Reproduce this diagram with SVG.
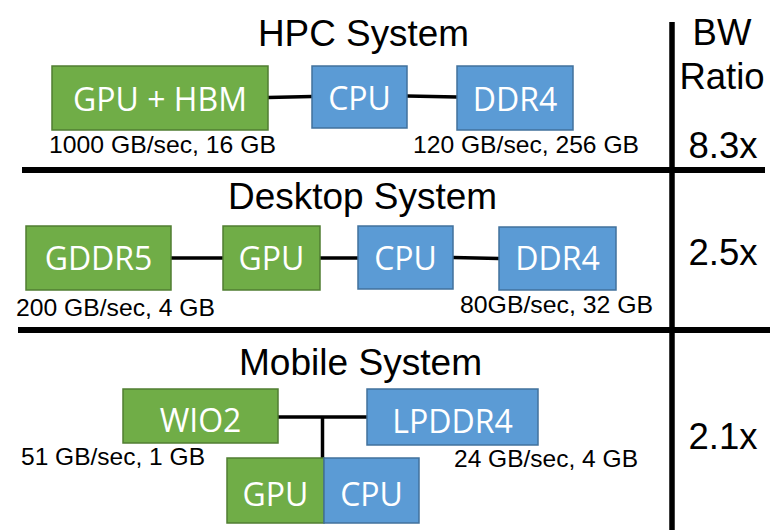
<svg xmlns="http://www.w3.org/2000/svg" width="777" height="530" viewBox="0 0 777 530">
<style>
.g{fill:#70AD47;stroke:#507E32;stroke-width:1.5}
.b{fill:#5B9BD5;stroke:#41719C;stroke-width:1.5}
.bt{font-family:"Open Sans","Noto Sans",sans-serif;font-size:32px;fill:#fff;text-anchor:middle}
.lb{font-family:"Liberation Sans",Arial,sans-serif;font-size:24.5px;fill:#000}
.tt{font-family:"Liberation Sans",Arial,sans-serif;font-size:36.5px;fill:#000}
.rt{font-family:"Liberation Sans",Arial,sans-serif;font-size:36.5px;fill:#000;text-anchor:middle}
.c{stroke:#000;stroke-width:3.5;fill:none}
.sep{stroke:#000;fill:none}
</style>
<rect width="777" height="530" fill="#fff"/>
<g id="separators">
<line class="sep" x1="22" y1="170" x2="765" y2="170" stroke-width="6"/>
<line class="sep" x1="18" y1="330" x2="770" y2="330" stroke-width="6"/>
<line class="sep" x1="672" y1="22" x2="672" y2="530" stroke-width="5.5"/>
</g>
<g id="connectors">
<line class="c" x1="268" y1="97.5" x2="312" y2="96.5"/>
<line class="c" x1="407" y1="96" x2="457" y2="97"/>
<line class="c" x1="171" y1="258" x2="223" y2="258"/>
<line class="c" x1="320" y1="258" x2="358" y2="258"/>
<line class="c" x1="453" y1="257.5" x2="499" y2="258.5"/>
<line class="c" x1="278" y1="417" x2="367" y2="417"/>
<line class="c" x1="322.5" y1="417" x2="322.5" y2="458"/>
</g>
<g id="titles">
<text class="tt" x="258" y="46" textLength="211" lengthAdjust="spacingAndGlyphs">HPC System</text>
<text class="tt" x="228" y="209" textLength="269" lengthAdjust="spacingAndGlyphs">Desktop System</text>
<text class="tt" x="239" y="375" textLength="243" lengthAdjust="spacingAndGlyphs">Mobile System</text>
</g>
<g id="ratio">
<text class="rt" x="722" y="45">BW</text>
<text class="rt" x="722" y="89">Ratio</text>
<text class="rt" x="723" y="158">8.3x</text>
<text class="rt" x="723" y="265">2.5x</text>
<text class="rt" x="723" y="449">2.1x</text>
</g>
<g id="hpc-gpu"><rect class="g" x="52" y="66" width="216" height="64"/><text class="bt" x="160" y="111">GPU + HBM</text></g>
<g id="hpc-cpu"><rect class="b" x="312" y="66" width="95" height="62"/><text class="bt" x="359.5" y="110">CPU</text></g>
<g id="hpc-ddr4"><rect class="b" x="457" y="66" width="116" height="64"/><text class="bt" x="515" y="111">DDR4</text></g>
<text class="lb" x="49" y="153" textLength="227" lengthAdjust="spacingAndGlyphs">1000 GB/sec, 16 GB</text>
<text class="lb" x="413" y="153" textLength="226" lengthAdjust="spacingAndGlyphs">120 GB/sec, 256 GB</text>
<g id="desk-gddr5"><rect class="g" x="26" y="226" width="145" height="64"/><text class="bt" x="98.5" y="270">GDDR5</text></g>
<g id="desk-gpu"><rect class="g" x="223" y="226" width="97" height="64"/><text class="bt" x="271.5" y="270">GPU</text></g>
<g id="desk-cpu"><rect class="b" x="358" y="226" width="95" height="63"/><text class="bt" x="405.5" y="270">CPU</text></g>
<g id="desk-ddr4"><rect class="b" x="499" y="227" width="117" height="63"/><text class="bt" x="557.5" y="270">DDR4</text></g>
<text class="lb" x="16" y="316" textLength="199" lengthAdjust="spacingAndGlyphs">200 GB/sec, 4 GB</text>
<text class="lb" x="460" y="313" textLength="193" lengthAdjust="spacingAndGlyphs">80GB/sec, 32 GB</text>
<g id="mob-wio2"><rect class="g" x="123" y="389" width="155" height="54"/><text class="bt" x="200.5" y="432">WIO2</text></g>
<g id="mob-lpddr4"><rect class="b" x="367" y="389" width="171" height="56"/><text class="bt" x="452.5" y="433">LPDDR4</text></g>
<g id="mob-gpu"><rect class="g" x="227" y="458" width="97" height="65"/><text class="bt" x="275.5" y="506">GPU</text></g>
<g id="mob-cpu"><rect class="b" x="324" y="458" width="95" height="65"/><text class="bt" x="371.5" y="506">CPU</text></g>
<text class="lb" x="21" y="465" textLength="184" lengthAdjust="spacingAndGlyphs">51 GB/sec, 1 GB</text>
<text class="lb" x="454" y="467" textLength="184" lengthAdjust="spacingAndGlyphs">24 GB/sec, 4 GB</text>
</svg>
